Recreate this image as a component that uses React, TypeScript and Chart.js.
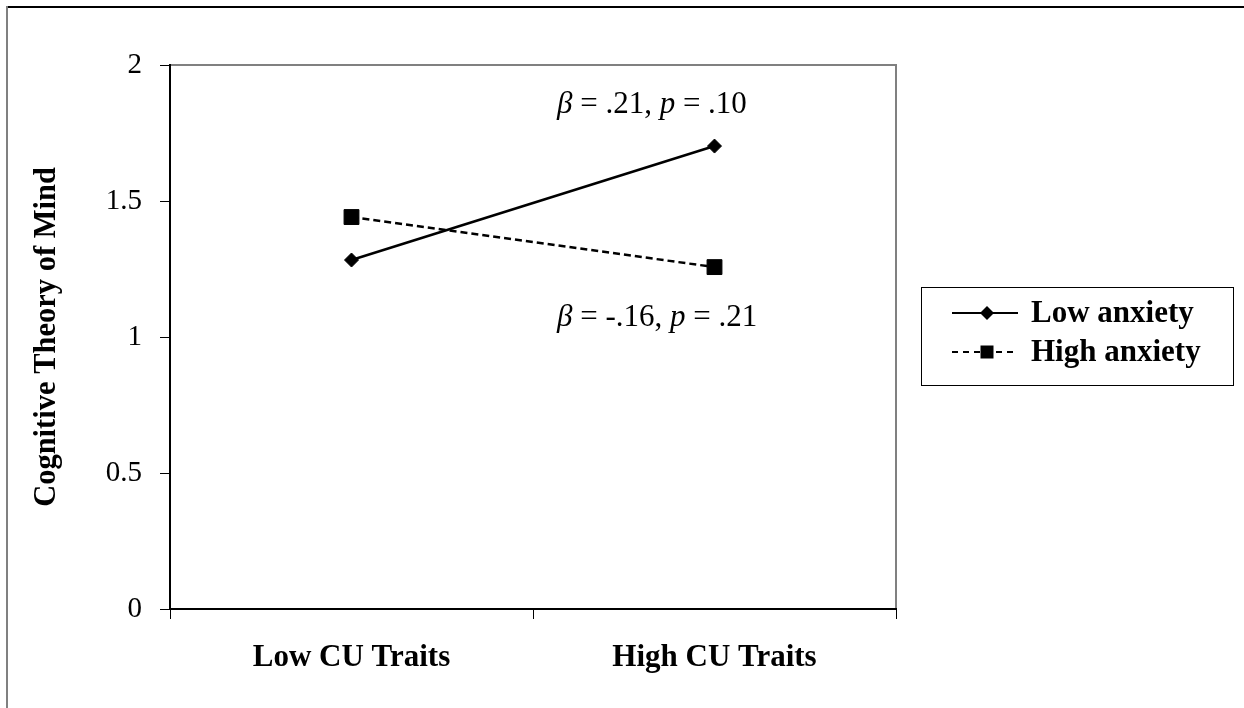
import React, { useEffect, useRef } from "react";
import { Chart, registerables } from "chart.js";

Chart.register(...registerables);

const categories = ["Low CU Traits", "High CU Traits"];
const seriesNames = ["Low anxiety", "High anxiety"];
const lowAnxiety = [1.283, 1.702];
const highAnxiety = [1.441, 1.257];
const yTicks = [0, 0.5, 1, 1.5, 2];
const yTickLabels = ["0", "0.5", "1", "1.5", "2"];
const yTitle = "Cognitive Theory of Mind";

const annotationTop = [
  { text: "β", italic: true },
  { text: " = .21, ", italic: false },
  { text: "p", italic: true },
  { text: " = .10", italic: false },
];
const annotationBottom = [
  { text: "β", italic: true },
  { text: " = -.16, ", italic: false },
  { text: "p", italic: true },
  { text: " = .21", italic: false },
];
const annotationAnchors = [
  { x: 0.566, y: 1.824 },
  { x: 0.566, y: 1.04 },
];

const FONT = '"Liberation Serif", "Times New Roman", serif';

const framePlugin = {
  id: "frame",
  beforeDraw(chart: any) {
    const ctx = chart.ctx;
    const { width, height } = chart;
    ctx.save();
    ctx.fillStyle = "#fff";
    ctx.fillRect(0, 0, width, height);
    ctx.lineWidth = 2;
    ctx.strokeStyle = "#000";
    ctx.beginPath();
    ctx.moveTo(6, 7);
    ctx.lineTo(width, 7);
    ctx.stroke();
    ctx.strokeStyle = "#808080";
    ctx.beginPath();
    ctx.moveTo(7, 6);
    ctx.lineTo(7, height);
    ctx.stroke();
    const { left, top, right, bottom } = chart.chartArea;
    ctx.strokeStyle = "#808080";
    ctx.beginPath();
    ctx.moveTo(left, top);
    ctx.lineTo(right, top);
    ctx.lineTo(right, bottom);
    ctx.stroke();
    ctx.restore();
  },
};

const annotationPlugin = {
  id: "betaNotes",
  afterDatasetsDraw(chart: any) {
    const ctx = chart.ctx;
    const xs = chart.scales.x;
    const ys = chart.scales.y;
    const groups = [annotationTop, annotationBottom];
    ctx.save();
    ctx.fillStyle = "#000";
    ctx.textBaseline = "alphabetic";
    ctx.textAlign = "left";
    groups.forEach((parts, i) => {
      let x = xs.getPixelForValue(annotationAnchors[i].x);
      const y = ys.getPixelForValue(annotationAnchors[i].y);
      parts.forEach((p) => {
        ctx.font = (p.italic ? "italic " : "") + "31px " + FONT;
        ctx.fillText(p.text, x, y);
        x += ctx.measureText(p.text).width;
      });
    });
    ctx.restore();
  },
};

const legendPlugin = {
  id: "boxLegend",
  afterDraw(chart: any) {
    const ctx = chart.ctx;
    const bx = 921;
    const by = 287;
    const bw = 312;
    const bh = 98;
    ctx.save();
    ctx.strokeStyle = "#000";
    ctx.lineWidth = 1;
    ctx.strokeRect(bx + 0.5, by + 0.5, bw, bh);
    const rows = [
      { y: 313, dash: [], shape: "diamond" },
      { y: 352, dash: [6, 5], shape: "square" },
    ];
    rows.forEach((r, i) => {
      ctx.strokeStyle = "#000";
      ctx.lineWidth = 2;
      ctx.setLineDash(r.dash);
      ctx.beginPath();
      ctx.moveTo(952, r.y);
      ctx.lineTo(1018, r.y);
      ctx.stroke();
      ctx.setLineDash([]);
      ctx.fillStyle = "#000";
      const cx = 987;
      ctx.beginPath();
      if (r.shape === "diamond") {
        ctx.moveTo(cx, r.y - 7);
        ctx.lineTo(cx + 7, r.y);
        ctx.lineTo(cx, r.y + 7);
        ctx.lineTo(cx - 7, r.y);
        ctx.closePath();
      } else {
        ctx.rect(cx - 6.5, r.y - 6.5, 13, 13);
      }
      ctx.fill();
      ctx.font = "bold 31px " + FONT;
      ctx.textBaseline = "middle";
      ctx.textAlign = "left";
      ctx.fillText(seriesNames[i], 1031, r.y + 1);
    });
    ctx.restore();
  },
};

export default function App() {
  const ref = useRef<HTMLCanvasElement>(null);
  useEffect(() => {
    document.body.style.margin = "0";
    if (!ref.current) return;
    const chart = new Chart(ref.current, {
      type: "line",
      data: {
        labels: categories,
        datasets: [
          {
            label: seriesNames[0],
            data: lowAnxiety,
            borderColor: "#000",
            backgroundColor: "#000",
            borderWidth: 2.5,
            pointStyle: "rectRot",
            pointRadius: 7,
            pointBorderWidth: 1,
            pointBackgroundColor: "#000",
            pointBorderColor: "#000",
            tension: 0,
            fill: false,
          },
          {
            label: seriesNames[1],
            data: highAnxiety,
            borderColor: "#000",
            backgroundColor: "#000",
            borderWidth: 2.5,
            borderDash: [7, 4],
            pointStyle: "rect",
            pointRadius: 10.5,
            pointBorderWidth: 1,
            pointBackgroundColor: "#000",
            pointBorderColor: "#000",
            tension: 0,
            fill: false,
          },
        ],
      },
      options: {
        animation: false,
        responsive: false,
        devicePixelRatio: 1,
        layout: { padding: { left: 0, right: 348, top: 65, bottom: 0 } },
        plugins: {
          legend: { display: false },
          tooltip: { enabled: false },
        },
        scales: {
          x: {
            type: "category",
            offset: true,
            grid: {
              offset: true,
              drawOnChartArea: false,
              drawTicks: true,
              tickLength: 10,
              color: "#000",
              lineWidth: 1,
            },
            border: { display: true, color: "#000", width: 2 },
            ticks: {
              color: "#000",
              font: { family: FONT, size: 31, weight: "bold" },
              padding: 20,
              maxRotation: 0,
            },
            afterFit: (s: any) => {
              s.height = 99;
            },
          },
          y: {
            min: 0,
            max: 2,
            grid: {
              drawOnChartArea: false,
              drawTicks: true,
              tickLength: 10,
              color: "#000",
              lineWidth: 1,
            },
            border: { display: true, color: "#000", width: 2 },
            ticks: {
              color: "#000",
              font: { family: FONT, size: 29 },
              padding: 18,
              callback: (v: any) => {
                const i = yTicks.indexOf(Number(v));
                return i >= 0 ? yTickLabels[i] : String(v);
              },
            },
            afterBuildTicks: (s: any) => {
              s.ticks = yTicks.map((v) => ({ value: v }));
            },
            title: {
              display: true,
              text: yTitle,
              color: "#000",
              font: { family: FONT, size: 30.5, weight: "bold" },
              padding: { top: 29, bottom: 0 },
            },
            afterFit: (s: any) => {
              s.width = 170;
            },
          },
        },
      },
      plugins: [framePlugin, annotationPlugin, legendPlugin],
    });
    return () => chart.destroy();
  }, []);
  return (
    <div style={{ position: "relative", width: 1244, height: 708 }}>
      <canvas ref={ref} width={1244} height={708} style={{ display: "block" }} />
    </div>
  );
}
